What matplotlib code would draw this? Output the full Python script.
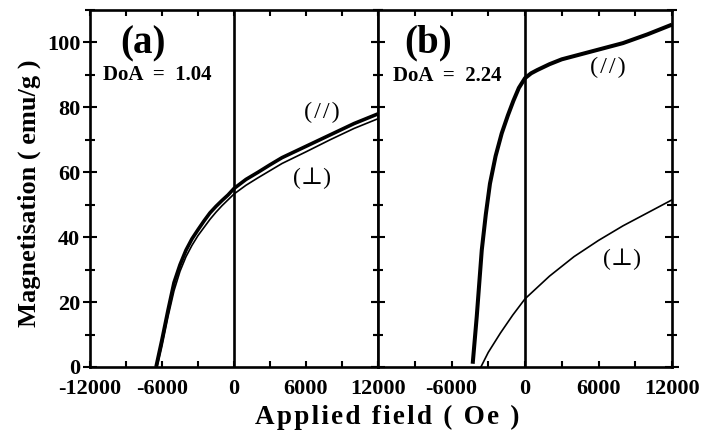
import matplotlib
matplotlib.use("Agg")
import matplotlib.pyplot as plt
from matplotlib.ticker import MultipleLocator

# ---- data ----
a_par_x = [-6500, -6000, -5500, -5000, -4500, -4000, -3500, -3000, -2500, -2000,
           -1500, -1000, -500, 0, 1000, 2000, 3000, 4000, 6000, 8000, 10000, 12000]
a_par_y = [0, 8.5, 17.5, 26, 31.5, 36, 39.5, 42.3, 45, 47.5,
           49.5, 51.3, 53, 55, 57.8, 60, 62.3, 64.5, 68, 71.5, 75, 78]
a_perp_x = [-6400, -6000, -5500, -5000, -4500, -4000, -3500, -3000, -2500, -2000,
            -1500, -1000, -500, 0, 1000, 2000, 3000, 4000, 6000, 8000, 10000, 12000]
a_perp_y = [0, 6.5, 15.5, 23.5, 29.5, 34, 37.5, 40.5, 43, 45.5,
            47.7, 49.7, 51.5, 53.3, 56, 58.3, 60.5, 62.7, 66.3, 70, 73.5, 76.5]

b_par_x = [-4270, -3940, -3750, -3530, -3200, -2860, -2400, -1900, -1400, -950,
           -500, 0, 500, 1000, 2000, 3000, 4000, 6000, 8000, 10000, 12000]
b_par_y = [1, 15.5, 25, 36, 47, 56.5, 65, 72, 77.5, 82,
           86, 89, 90.5, 91.5, 93.3, 94.8, 95.8, 97.8, 99.8, 102.5, 105.5]
b_perp_x = [-3600, -3000, -2000, -1000, 0, 1000, 2000, 3000, 4000,
            6000, 8000, 10000, 12000]
b_perp_y = [0, 4.5, 10.5, 16, 21, 24.5, 28, 31, 34,
            39, 43.5, 47.5, 51.5]

x_ticks = [-12000, -6000, 0, 6000, 12000]
y_ticks = [0, 20, 40, 60, 80, 100]

panel_labels = ["(a)", "(b)"]
doa_labels = ["DoA  =  1.04", "DoA  =  2.24"]

plt.rcParams['font.family'] = ['Liberation Serif', 'DejaVu Serif']
plt.rcParams['font.weight'] = 'bold'
plt.rcParams['axes.unicode_minus'] = False

W, H = 701, 432
fig = plt.figure(figsize=(W / 100, H / 100), dpi=100)

def frac(x0, y0, x1, y1):
    return [x0 / W, 1 - y1 / H, (x1 - x0) / W, (y1 - y0) / H]

ax1 = fig.add_axes(frac(90, 10, 378, 367))
ax2 = fig.add_axes(frac(378, 10, 672, 367))

for ax in (ax1, ax2):
    ax.set_xlim(-12000, 12000)
    ax.set_ylim(0, 110)
    for s in ax.spines.values():
        s.set_linewidth(1.9)
    ax.axvline(0, color='black', lw=1.9)
    ax.set_xticks(x_ticks)
    ax.xaxis.set_minor_locator(MultipleLocator(3000))
    ax.set_yticks(y_ticks)
    ax.yaxis.set_minor_locator(MultipleLocator(10))
    ax.tick_params(axis='x', which='both', direction='in', top=True,
                   length=4, width=1.5, labelsize=16, pad=9)
    ax.tick_params(axis='y', which='major', direction='inout', right=True,
                   length=10, width=1.5, labelsize=16, pad=2)
    ax.tick_params(axis='y', which='minor', direction='inout', right=True,
                   length=7, width=1.5)
    for lab in ax.get_xticklabels() + ax.get_yticklabels():
        lab.set_fontweight('bold')

ax2.tick_params(axis='y', labelleft=False)
ax2.set_xticks(x_ticks)
ax2.set_xticklabels([''] + [str(v) for v in x_ticks[1:]])
for lab in ax2.get_xticklabels():
    lab.set_fontweight('bold')

# curves
ax1.plot(a_par_x, a_par_y, color='black', lw=2.6, solid_capstyle='butt')
ax1.plot(a_perp_x, a_perp_y, color='black', lw=1.2)
ax2.plot(b_par_x, b_par_y, color='black', lw=2.9, solid_capstyle='butt')
ax2.plot(b_perp_x, b_perp_y, color='black', lw=1.2)

# annotations
def px_text(x, y, s, size, weight='bold', ha='center'):
    fig.text(x / W, 1 - y / H, s, fontsize=size, fontweight=weight,
             ha=ha, va='center')

hs = "\u200a"
par_lab = hs.join("(//)")
perp_lab = "(\u22a5)"

px_text(143, 44, panel_labels[0], 28)
px_text(428, 43, panel_labels[1], 28)
px_text(103, 75, doa_labels[0], 15, ha='left')
px_text(393, 76, doa_labels[1], 15, ha='left')
px_text(322, 112, par_lab, 17.5, weight='normal')
px_text(312, 178, perp_lab, 17, weight='normal')
px_text(608, 67, par_lab, 17.5, weight='normal')
px_text(622, 259, perp_lab, 17, weight='normal')

xlabel = hs.join("Applied field ( Oe )")
fig.text(387 / W, 1 - 417 / H, xlabel,
         fontsize=19.5, fontweight='bold', ha='center', va='center')
fig.text(29 / W, 1 - 193 / H, "Magnetisation ( emu/g )", fontsize=19,
         fontweight='bold', ha='center', va='center', rotation=90)

fig.savefig("out.png", dpi=100)
